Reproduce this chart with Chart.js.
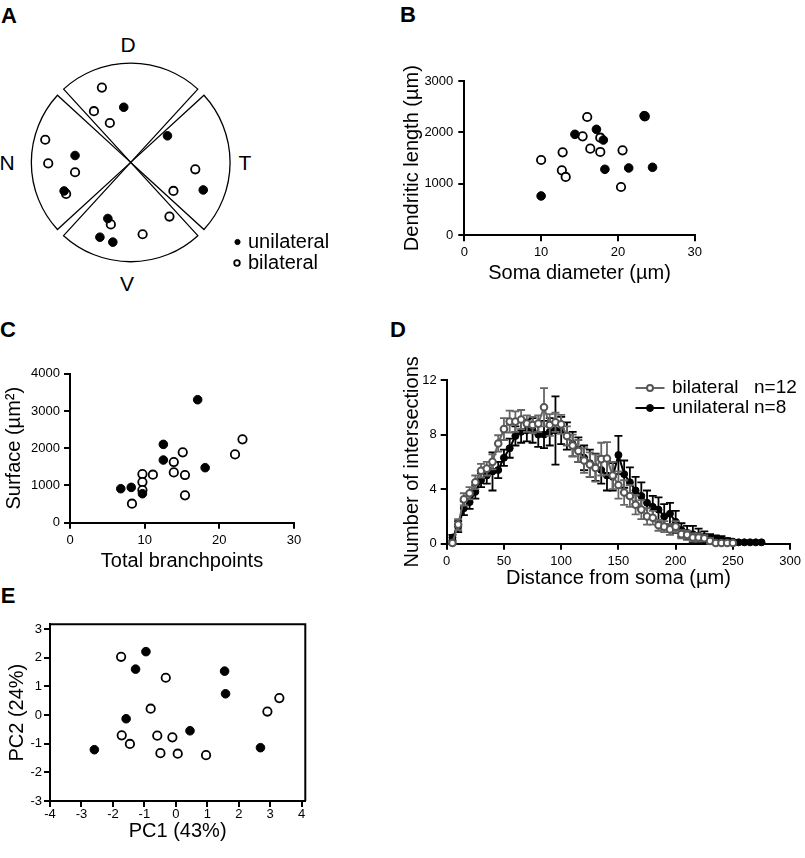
<!DOCTYPE html>
<html>
<head>
<meta charset="utf-8">
<script src="https://cdn.jsdelivr.net/npm/chart.js@4.4.0/dist/chart.umd.min.js"></script>
<style>
  body { margin: 0; background: #fff; width: 805px; height: 858px; position: relative; overflow: hidden;
         font-family: "Liberation Sans", Arial, sans-serif; }
  canvas { position: absolute; }
  .letter { position: absolute; font-weight: bold; font-size: 22px; line-height: 1; transform: translate(-50%, -50%); }
  .lab { position: absolute; font-size: 21px; line-height: 1; transform: translate(-50%, -50%); }
</style>
</head>
<body>

<div class="letter" style="left:9px;top:16px">A</div>
<div class="letter" style="left:408px;top:15px">B</div>
<div class="letter" style="left:8px;top:330px">C</div>
<div class="letter" style="left:398px;top:330px">D</div>
<div class="letter" style="left:8px;top:596px">E</div>

<div class="lab" style="left:128px;top:44px">D</div>
<div class="lab" style="left:245px;top:162px">T</div>
<div class="lab" style="left:127px;top:283px">V</div>
<div class="lab" style="left:7px;top:162px">N</div>

<canvas id="chartA" width="340" height="270" style="left:0;top:30px"></canvas>
<canvas id="chartB" width="305" height="250" style="left:400px;top:40px"></canvas>
<canvas id="chartC" width="310" height="225" style="left:0;top:350px"></canvas>
<canvas id="chartD" width="415" height="240" style="left:390px;top:350px"></canvas>
<canvas id="chartE" width="320" height="250" style="left:0;top:600px"></canvas>

<script>
// A: cell positions on the retina, in units of retinal radius (x: nasal -> temporal, y: ventral -> dorsal)
const retinaUniX = [-0.07, 0.37, 0.73, -0.56, -0.67, -0.23, -0.31, -0.18]
const retinaUniY = [0.56, 0.27, -0.28, 0.07, -0.29, -0.57, -0.76, -0.81]
const retinaBiX = [-0.29, -0.37, -0.21, -0.86, -0.83, -0.56, -0.65, 0.65, 0.43, 0.39, 0.12, -0.20]
const retinaBiY = [0.76, 0.52, 0.40, 0.23, -0.01, -0.10, -0.32, -0.07, -0.29, -0.55, -0.73, -0.63]

// B: soma diameter (um) vs dendritic length (um)
const somaUni = [10.0, 14.4, 17.2, 18.1, 18.3, 21.4, 24.5, 23.4]
const dendUni = [765, 1963, 2060, 1853, 1283, 1309, 1322, 2326]
const somaBi = [10.0, 12.8, 12.7, 13.2, 16.0, 15.4, 16.4, 17.7, 17.7, 20.6, 20.4, 23.5]
const dendBi = [1464, 1613, 1263, 1134, 2300, 1924, 1685, 1898, 1620, 1652, 939, 2313]

// C: total branchpoints vs surface (um2)
const branchUni = [6.8, 8.2, 9.7, 12.5, 12.5, 17.1, 18.1]
const surfUni = [913, 948, 778, 2103, 1682, 3302, 1477]
const branchBi = [8.3, 9.7, 9.7, 9.7, 11.1, 13.9, 13.9, 15.1, 15.4, 15.4, 22.1, 23.1]
const surfBi = [510, 1306, 1092, 877, 1289, 1629, 1351, 1888, 1280, 734, 1834, 2237]

// D: Sholl analysis, mean +/- SEM
const distUni = [5, 10, 15, 20, 25, 30, 35, 40, 45, 50, 55, 60, 65, 70, 75, 80, 85, 90, 95, 100,
  105, 110, 115, 120, 125, 130, 135, 140, 145, 150, 155, 160, 165, 170, 175, 180, 185, 190, 195, 200,
  205, 210, 215, 220, 225, 230, 235, 240, 245, 250, 255, 260, 265, 270, 275]
const shollUni = [0.45, 1.25, 2.6, 3.05, 3.8, 4.65, 5.0, 5.3, 5.4, 6.3, 7.0, 7.9, 8.2, 8.3, 8.3, 8.0, 8.0, 8.2, 8.3, 8.3,
  7.9, 7.3, 6.9, 6.3, 5.9, 5.6, 5.4, 5.0, 4.9, 6.5, 5.1, 4.5, 3.9, 3.5, 3.0, 2.7, 2.5, 2.0, 2.2, 1.6,
  1.0, 0.8, 0.7, 0.6, 0.5, 0.4, 0.3, 0.25, 0.2, 0.15, 0.1, 0.1, 0.1, 0.1, 0.1]
const semUni = [0.2, 0.4, 0.5, 0.5, 0.5, 0.5, 0.6, 1.4, 0.6, 0.6, 0.7, 0.7, 0.8, 0.8, 0.9, 0.9, 1.0, 1.0, 2.5, 1.0,
  1.0, 0.9, 0.9, 0.9, 1.0, 1.0, 1.0, 1.1, 1.0, 1.4, 1.0, 1.1, 1.0, 1.0, 0.9, 0.8, 0.9, 0.9, 0.8, 0.8,
  0.5, 0.5, 0.6, 0.5, 0.4, 0.3, 0.3, 0.3, 0.2, 0.1, 0, 0, 0, 0, 0]
const distBi = [5, 10, 15, 20, 25, 30, 35, 40, 45, 50, 55, 60, 65, 70, 75, 80, 85, 90, 95, 100,
  105, 110, 115, 120, 125, 130, 135, 140, 145, 150, 155, 160, 165, 170, 175, 180, 185, 190, 195, 200,
  205, 210, 215, 220, 225, 230, 235, 240, 245, 250]
const shollBi = [0.05, 1.4, 3.25, 3.7, 4.5, 5.35, 5.5, 6.0, 7.35, 8.4, 8.95, 8.95, 9.1, 8.8, 8.7, 8.8, 10.0, 8.7, 8.9, 8.75,
  7.9, 7.2, 6.8, 6.1, 5.8, 5.55, 6.2, 6.25, 5.0, 4.3, 3.75, 3.5, 2.85, 2.5, 2.0, 1.9, 1.35, 1.25, 1.05, 1.25,
  0.7, 0.65, 0.45, 0.45, 0.4, 0.2, 0.05, 0.05, 0.05, 0.05]
const semBi = [0.1, 0.4, 0.45, 0.45, 0.5, 0.5, 0.5, 0.55, 0.6, 0.8, 0.8, 0.75, 0.7, 0.6, 0.6, 0.6, 1.4, 0.8, 0.7, 0.7,
  0.7, 0.8, 0.8, 0.9, 0.9, 1.0, 1.2, 1.2, 1.0, 1.0, 0.9, 0.8, 0.7, 0.7, 0.6, 0.5, 0.4, 0.4, 0.4, 0.4,
  0.3, 0.3, 0.3, 0.3, 0.2, 0.2, 0, 0, 0, 0]

// E: principal components
const pc1Uni = [-2.59, -1.58, -1.28, -0.95, 0.45, 1.55, 1.58, 2.69]
const pc2Uni = [-1.21, -0.13, 1.60, 2.21, -0.55, 1.53, 0.74, -1.14]
const pc1Bi = [-1.74, -0.32, -0.80, -1.72, -1.46, -0.59, -0.11, -0.49, 0.06, 0.96, 2.91, 3.29]
const pc2Bi = [2.03, 1.30, 0.22, -0.71, -1.01, -0.72, -0.78, -1.33, -1.35, -1.40, 0.12, 0.59]

const FONT = '"Liberation Sans", Arial, sans-serif'
Chart.defaults.font.family = FONT
Chart.defaults.color = '#000'
Chart.defaults.animation = false
Chart.defaults.events = []
Chart.defaults.plugins.legend.display = false
Chart.defaults.plugins.tooltip.enabled = false

const pts = (xs, ys) => xs.map((x, i) => ({ x: x, y: ys[i] }))

const filled = (label, data, r) => ({
  label, data, pointRadius: r, pointBackgroundColor: '#000', pointBorderColor: '#000', pointBorderWidth: 1, clip: false,
})
const open = (label, data, r) => ({
  label, data, pointRadius: r, pointBackgroundColor: '#fff', pointBorderColor: '#000', pointBorderWidth: 1.8, clip: false,
})

// prism-like axis: thick line, outward ticks, no grid
function axis(min, max, step, title, size, tickPad, titlePad) {
  return {
    type: 'linear', min, max,
    ticks: { stepSize: step, padding: tickPad, includeBounds: false, font: { size: 13 }, color: '#000',
             callback: v => String(v) },
    grid: { drawOnChartArea: false, drawTicks: true, tickLength: 6, lineWidth: 2, tickWidth: 2, tickColor: '#000' },
    border: { display: true, color: '#000', width: 2 },
    title: { display: true, text: title, font: { size: 20 }, color: '#000', padding: titlePad },
    afterFit: s => { if (s.isHorizontal()) s.height = size; else s.width = size },
  }
}

// retina outline: four sectors with small gaps
const wedgePlugin = {
  id: 'wedges',
  beforeDatasetsDraw(chart, args, opts) {
    const { x, y } = chart.scales
    const cx = x.getPixelForValue(0), cy = y.getPixelForValue(0)
    const r = x.getPixelForValue(1) - cx
    const ctx = chart.ctx
    ctx.save()
    ctx.lineWidth = 1.3
    ctx.strokeStyle = '#000'
    opts.centers.forEach(deg => {
      const a0 = -(deg + opts.half) * Math.PI / 180
      const a1 = -(deg - opts.half) * Math.PI / 180
      ctx.beginPath()
      ctx.moveTo(cx, cy)
      ctx.arc(cx, cy, r, a0, a1)
      ctx.closePath()
      ctx.stroke()
    })
    ctx.restore()
  }
}

// small legend drawn with the dataset styles
const miniLegend = {
  id: 'miniLegend',
  afterDraw(chart, args, opts) {
    if (!opts.items) return
    const ctx = chart.ctx
    ctx.save()
    opts.items.forEach(it => {
      const ds = chart.data.datasets[it.ds]
      if (it.lineW) {
        ctx.strokeStyle = ds.borderColor
        ctx.lineWidth = ds.borderWidth
        ctx.beginPath()
        ctx.moveTo(it.x - it.lineW / 2, it.y)
        ctx.lineTo(it.x + it.lineW / 2, it.y)
        ctx.stroke()
      }
      ctx.beginPath()
      ctx.arc(it.x, it.y, it.r, 0, Math.PI * 2)
      ctx.fillStyle = ds.pointBackgroundColor
      ctx.fill()
      ctx.lineWidth = it.bw
      ctx.strokeStyle = ds.pointBorderColor
      ctx.stroke()
      ctx.fillStyle = '#000'
      ctx.font = opts.size + 'px ' + FONT
      ctx.textBaseline = 'middle'
      ctx.fillText(it.text, it.tx, it.y)
      if (it.suffix) ctx.fillText(it.suffix, it.sx, it.y)
    })
    ctx.restore()
  }
}

// vertical SEM bars under each dataset
const errorBars = {
  id: 'errorBars',
  beforeDatasetDraw(chart, args) {
    const ds = chart.data.datasets[args.index]
    if (!ds.errors) return
    const ys = chart.scales.y, ctx = chart.ctx
    ctx.save()
    ctx.strokeStyle = ds.borderColor
    ctx.lineWidth = 1.8
    args.meta.data.forEach((p, i) => {
      const e = ds.errors[i]
      if (!e) return
      const v = ds.data[i].y
      const t = ys.getPixelForValue(v + e), b = ys.getPixelForValue(v - e)
      ctx.beginPath()
      ctx.moveTo(p.x, t); ctx.lineTo(p.x, b)
      ctx.moveTo(p.x - 4, t); ctx.lineTo(p.x + 4, t)
      ctx.moveTo(p.x - 4, b); ctx.lineTo(p.x + 4, b)
      ctx.stroke()
    })
    ctx.restore()
  }
}

// closes the frame on the top and right (panel E)
const frame = {
  id: 'frame',
  afterDraw(chart, args, opts) {
    if (!opts.on) return
    const { left, right, top, bottom } = chart.chartArea
    const ctx = chart.ctx
    ctx.save()
    ctx.strokeStyle = '#000'
    ctx.lineWidth = 2
    ctx.beginPath()
    ctx.moveTo(left, top); ctx.lineTo(right, top); ctx.lineTo(right, bottom)
    ctx.stroke()
    ctx.restore()
  }
}

Chart.register(miniLegend, frame)

// ---- A
new Chart(document.getElementById('chartA'), {
  type: 'scatter',
  data: { datasets: [
    filled('unilateral', pts(retinaUniX, retinaUniY), 4.3),
    open('bilateral', pts(retinaBiX, retinaBiY), 4.2),
  ] },
  plugins: [wedgePlugin],
  options: {
    responsive: false,
    layout: { padding: 0 },
    scales: {
      x: { type: 'linear', display: false, min: -1.255, max: 2.046 },
      y: { type: 'linear', display: false, min: -1.337, max: 1.284 },
    },
    plugins: {
      wedges: { centers: [90, 0, 270, 180], half: 42.5 },
      miniLegend: { size: 20, items: [
        { ds: 0, x: 237.5, y: 212, r: 2.6, bw: 1, text: 'unilateral', tx: 248 },
        { ds: 1, x: 237, y: 233, r: 2.8, bw: 1.8, text: 'bilateral', tx: 248 },
      ] },
    },
  },
})

// ---- B
new Chart(document.getElementById('chartB'), {
  type: 'scatter',
  data: { datasets: [
    filled('unilateral', pts(somaUni, dendUni), 4.3),
    open('bilateral', pts(somaBi, dendBi), 4.2),
  ] },
  options: {
    responsive: false,
    layout: { padding: { left: 0, right: 9.7, top: 41, bottom: 0 } },
    scales: {
      x: axis(0, 30, 10, 'Soma diameter (µm)', 54.7, 3, { top: 0, bottom: 5 }),
      y: axis(0, 3000, 1000, 'Dendritic length (µm)', 64.3, 5, { top: 0, bottom: 0 }),
    },
  },
})

// ---- C
new Chart(document.getElementById('chartC'), {
  type: 'scatter',
  data: { datasets: [
    filled('unilateral', pts(branchUni, surfUni), 4.3),
    open('bilateral', pts(branchBi, surfBi), 4.2),
  ] },
  options: {
    responsive: false,
    layout: { padding: { left: 0, right: 16, top: 23.7, bottom: 0 } },
    scales: {
      x: axis(0, 30, 10, 'Total branchpoints', 52.3, 4, { top: 0, bottom: 2 }),
      y: axis(0, 4000, 1000, 'Surface (µm²)', 70, 4, { top: 2, bottom: 0 }),
    },
  },
})

// ---- D
new Chart(document.getElementById('chartD'), {
  type: 'scatter',
  data: { datasets: [
    { label: 'bilateral', data: pts(distBi, shollBi), errors: semBi, showLine: true,
      borderColor: '#666', borderWidth: 2, pointRadius: 3.3, pointBackgroundColor: '#fff',
      pointBorderColor: '#555', pointBorderWidth: 2, clip: false },
    { label: 'unilateral', data: pts(distUni, shollUni), errors: semUni, showLine: true,
      borderColor: '#000', borderWidth: 2, pointRadius: 3.5, pointBackgroundColor: '#000',
      pointBorderColor: '#000', pointBorderWidth: 1, clip: false },
  ] },
  plugins: [errorBars],
  options: {
    responsive: false,
    layout: { padding: { left: 0, right: 12.7, top: 30, bottom: 0 } },
    scales: {
      x: axis(0, 300, 50, 'Distance from soma (µm)', 46.3, 4, { top: 0, bottom: 0 }),
      y: axis(0, 12, 4, 'Number of intersections', 56.7, 4, { top: 10, bottom: 0 }),
    },
    plugins: {
      miniLegend: { size: 19, items: [
        { ds: 0, x: 260, y: 38, r: 3, bw: 2, lineW: 29, text: 'bilateral', tx: 282, suffix: 'n=12', sx: 364 },
        { ds: 1, x: 260, y: 58, r: 3.5, bw: 1, lineW: 29, text: 'unilateral', tx: 282, suffix: 'n=8', sx: 364 },
      ] },
    },
  },
})

// ---- E
new Chart(document.getElementById('chartE'), {
  type: 'scatter',
  data: { datasets: [
    filled('unilateral', pts(pc1Uni, pc2Uni), 4.3),
    open('bilateral', pts(pc1Bi, pc2Bi), 4.2),
  ] },
  options: {
    responsive: false,
    layout: { padding: { left: 0, right: 14.7, top: 24.3, bottom: 0 } },
    scales: {
      x: axis(-4, 4.115, 1, 'PC1 (43%)', 49, 0, { top: 0, bottom: 7 }),
      y: axis(-3, 3.164, 1, 'PC2 (24%)', 50, 2, { top: 5, bottom: 0 }),
    },
    plugins: { frame: { on: true } },
  },
})
</script>
</body>
</html>
